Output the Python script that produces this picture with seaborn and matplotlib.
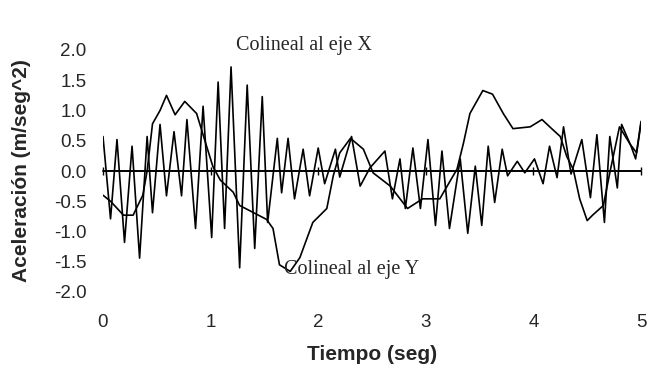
import matplotlib
matplotlib.use("Agg")
import matplotlib.pyplot as plt
import pandas as pd
import seaborn as sns

# oscillating record (colineal al eje X)
t_x = [0.00, 0.07, 0.13, 0.20, 0.27, 0.34, 0.41, 0.46, 0.53, 0.59, 0.66, 0.73,
       0.78, 0.86, 0.93, 1.01, 1.07, 1.13, 1.19, 1.27, 1.34, 1.41, 1.48, 1.53,
       1.62, 1.66, 1.72, 1.78, 1.86, 1.92, 2.00, 2.06, 2.16, 2.20, 2.31, 2.39,
       2.48, 2.62, 2.69, 2.76, 2.81, 2.88, 2.95, 3.02, 3.09, 3.15, 3.22, 3.32,
       3.39, 3.46, 3.52, 3.58, 3.64, 3.71, 3.76, 3.85, 3.92, 4.01, 4.09, 4.15,
       4.22, 4.28, 4.35, 4.45, 4.53, 4.59, 4.66, 4.71, 4.78, 4.82, 4.91, 4.95,
       5.00]
a_x = [0.57, -0.79, 0.52, -1.18, 0.41, -1.44, 0.57, -0.69, 0.77, -0.41, 0.65, -0.41,
       0.85, -0.95, 1.07, -1.10, 1.47, -0.95, 1.72, -1.60, 1.42, -1.28, 1.23, -0.85,
       0.54, -0.36, 0.54, -0.46, 0.36, -0.41, 0.38, -0.21, 0.36, -0.10, 0.57, -0.25,
       0.05, 0.33, -0.46, 0.20, -0.62, 0.38, -0.62, 0.52, -0.90, 0.33, -0.95, 0.20,
       -1.03, 0.08, -0.90, 0.41, -0.52, 0.36, -0.08, 0.16, -0.03, 0.20, -0.21, 0.41,
       -0.11, 0.73, -0.05, 0.52, -0.44, 0.60, -0.85, 0.57, -0.28, 0.77, 0.40, 0.20,
       0.82]

# slow record (colineal al eje Y)
t_y = [0.00, 0.07, 0.19, 0.28, 0.37, 0.41, 0.46, 0.53, 0.59, 0.67, 0.76, 0.87,
       0.93, 1.02, 1.09, 1.15, 1.21, 1.27, 1.39, 1.52, 1.58, 1.64, 1.74, 1.83,
       1.95, 2.08, 2.14, 2.20, 2.30, 2.42, 2.51, 2.67, 2.83, 2.97, 3.13, 3.29,
       3.35, 3.41, 3.53, 3.62, 3.72, 3.81, 3.97, 4.08, 4.17, 4.25, 4.31, 4.37,
       4.43, 4.50, 4.55, 4.65, 4.71, 4.80, 4.90, 4.96, 5.00]
a_y = [-0.40, -0.50, -0.73, -0.73, -0.40, 0.00, 0.78, 1.00, 1.25, 0.93, 1.15, 0.95,
       0.60, 0.08, -0.15, -0.25, -0.35, -0.57, -0.68, -0.80, -0.95, -1.55, -1.66, -1.43,
       -0.85, -0.62, -0.08, 0.30, 0.54, 0.36, -0.03, -0.25, -0.62, -0.46, -0.46, 0.03,
       0.46, 0.95, 1.33, 1.27, 0.95, 0.70, 0.73, 0.85, 0.70, 0.57, 0.24, 0.03,
       -0.46, -0.82, -0.73, -0.57, -0.03, 0.73, 0.44, 0.30, 0.79]

df = pd.concat([
    pd.DataFrame({"t": t_x, "a": a_x, "serie": "Colineal al eje X"}),
    pd.DataFrame({"t": t_y, "a": a_y, "serie": "Colineal al eje Y"}),
])

sns.set_theme(style="white")
plt.rcParams["font.family"] = ["Liberation Sans", "DejaVu Sans"]

fig = plt.figure(figsize=(6.68, 3.81), dpi=100)
ax = fig.add_axes([103 / 668, 1 - 292 / 381, 538 / 668, 242 / 381])

sns.lineplot(data=df, x="t", y="a", hue="serie", palette=["black", "black"],
             linewidth=1.2, legend=False, sort=False, ax=ax)

ax.set_xlim(0, 5)
ax.set_ylim(-2, 2)
for s in ax.spines.values():
    s.set_visible(False)

ax.set_xticks([0, 1, 2, 3, 4, 5])
ax.set_yticks([-2.0, -1.5, -1.0, -0.5, 0.0, 0.5, 1.0, 1.5, 2.0])
ax.set_yticklabels([f"{v:.1f}" for v in ax.get_yticks()])
ax.tick_params(axis="x", length=0, pad=16, labelsize=13.5)
ax.tick_params(axis="y", length=2, color="#aaaaaa", direction="in", pad=12, labelsize=13.5)

# zero line with tick marks, Excel style
ax.axhline(0, color="black", linewidth=1.3)
zero_axis = ax.secondary_xaxis(0.5)
zero_axis.spines["bottom"].set_visible(False)
zero_axis.set_xticks([0, 1, 2, 3, 4, 5])
zero_axis.set_xticklabels([])
zero_axis.tick_params(axis="x", direction="inout", length=6, width=1, colors="black")

ax.set_xlabel("Tiempo (seg)", fontsize=15, fontweight="bold", labelpad=10)
ax.set_ylabel("Aceleración (m/seg^2)", fontsize=15, fontweight="bold", labelpad=16)

ax.text(1.24, 2.07, "Colineal al eje X", family="Liberation Serif", fontsize=14.5,
        va="center", ha="left", clip_on=False)
ax.text(1.68, -1.62, "Colineal al eje Y", family="Liberation Serif", fontsize=14.5,
        va="center", ha="left", clip_on=False)

fig.savefig("out.png", dpi=100)
